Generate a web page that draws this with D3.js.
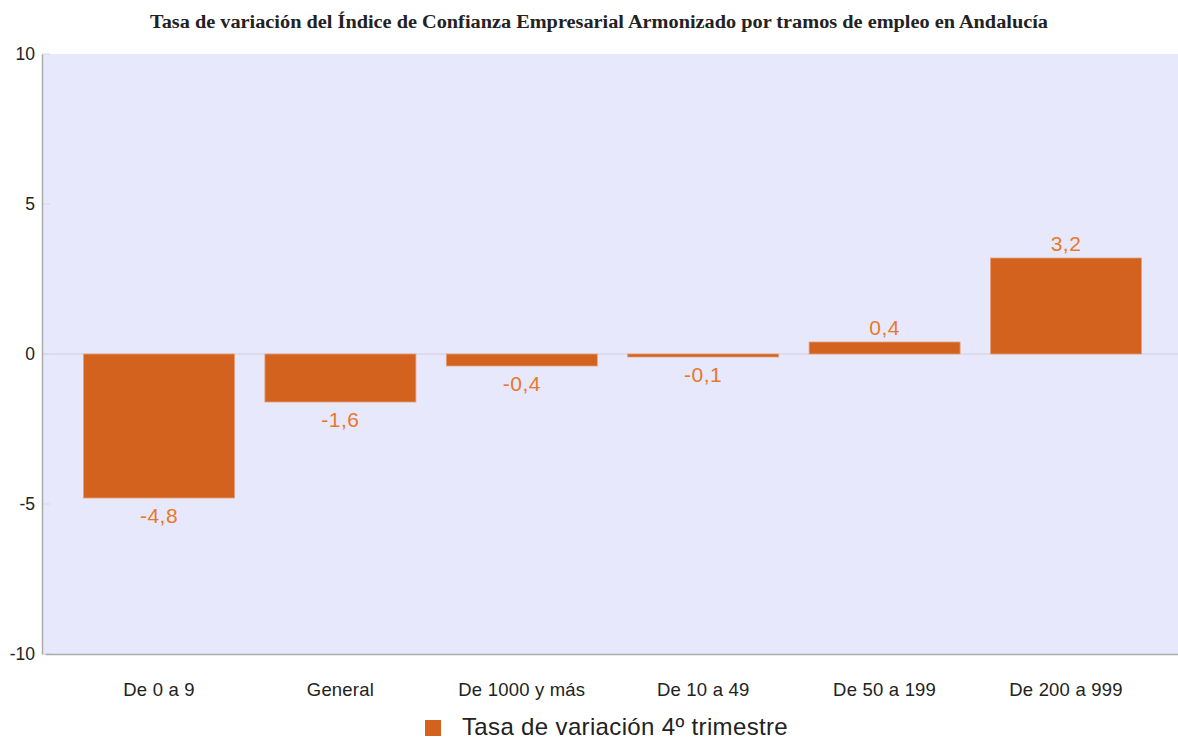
<!DOCTYPE html>
<html><head><meta charset="utf-8">
<script src="https://cdn.jsdelivr.net/npm/d3@7"></script>
<style>body{margin:0;background:#fff;}svg{display:block;}</style>
</head><body>
<script>
const categories = ["De 0 a 9","General","De 1000 y más","De 10 a 49","De 50 a 199","De 200 a 999"];
const values = [-4.8,-1.6,-0.4,-0.1,0.4,3.2];
const valueLabels = ["-4,8","-1,6","-0,4","-0,1","0,4","3,2"];
const yTicks = [-10,-5,0,5,10];
const seriesName = "Tasa de variación 4º trimestre";
const title = "Tasa de variación del Índice de Confianza Empresarial Armonizado por tramos de empleo en Andalucía";

const W = 1178, H = 739;
const m = {left:42, right:0, top:54, bottom:85};
const svg = d3.select("body").append("svg").attr("width",W).attr("height",H);

const x = d3.scaleBand().domain(categories).range([45, 1180]).paddingInner(0.1676).paddingOuter(0.2123);
const y = d3.scaleLinear().domain([-10,10]).range([H - m.bottom, m.top]);

svg.append("text").attr("x",599).attr("y",28).attr("text-anchor","middle")
  .attr("font-family","'Liberation Serif','Times New Roman',serif").attr("font-weight","bold")
  .attr("font-size",18).attr("fill","#222")
  .attr("textLength",898).attr("lengthAdjust","spacingAndGlyphs").text(title);

svg.append("rect").attr("x",m.left).attr("y",y(10)).attr("width",W-m.right-m.left).attr("height",y(-10)-y(10)).attr("fill","#e8e8fc");

svg.append("line").attr("x1",m.left).attr("x2",W-m.right).attr("y1",y(0)).attr("y2",y(0)).attr("stroke","#dcdcea").attr("stroke-width",2);

svg.append("g").selectAll("line").data(yTicks).join("line")
  .attr("x1",m.left).attr("x2",m.left+8).attr("y1",d=>y(d)).attr("y2",d=>y(d))
  .attr("stroke","#d6d6e4").attr("stroke-width",1);

const yAxis = d3.axisLeft(y).tickValues(yTicks).tickSize(0).tickPadding(7).tickFormat(d=>String(d));
const gy = svg.append("g").attr("transform",`translate(${m.left},0)`).call(yAxis);
gy.select(".domain").attr("stroke","#aaaaaa").attr("stroke-width",1.5);
gy.selectAll("text").attr("font-family","'Liberation Sans',Arial,sans-serif").attr("font-size",17.5).attr("fill","#222");

const xAxis = d3.axisBottom(x).tickSize(0).tickPadding(29);
const gx = svg.append("g").attr("transform",`translate(0,${y(-10)})`).call(xAxis);
gx.select(".domain").attr("stroke","#aaaaaa").attr("stroke-width",1.5);
gx.selectAll("text").attr("font-family","'Liberation Sans',Arial,sans-serif").attr("font-size",18.5)
  .attr("letter-spacing",0.2).attr("fill","#222");

const data = categories.map((c,i)=>({c, v:values[i], l:valueLabels[i]}));
svg.append("g").selectAll("rect").data(data).join("rect")
  .attr("x",d=>x(d.c)).attr("width",x.bandwidth())
  .attr("y",d=>y(Math.max(0,d.v))).attr("height",d=>Math.max(1,Math.abs(y(d.v)-y(0))))
  .attr("fill","#d2621e").attr("stroke","#e6a07a").attr("stroke-width",0.8);

svg.append("g").selectAll("text").data(data).join("text")
  .attr("x",d=>x(d.c)+x.bandwidth()/2)
  .attr("y",d=> d.v>=0 ? y(d.v)-7 : y(d.v)+25)
  .attr("text-anchor","middle").attr("font-family","'Liberation Sans',Arial,sans-serif")
  .attr("font-size",21).attr("letter-spacing",0.5).attr("fill","#e8782a").text(d=>d.l);

const lg = svg.append("g");
lg.append("rect").attr("x",425).attr("y",720).attr("width",16).attr("height",16).attr("fill","#d2621e");
lg.append("text").attr("x",462).attr("y",735).attr("font-family","'Liberation Sans',Arial,sans-serif")
  .attr("font-size",24).attr("letter-spacing",0.35).attr("fill","#222").text(seriesName);
</script>
</body></html>
